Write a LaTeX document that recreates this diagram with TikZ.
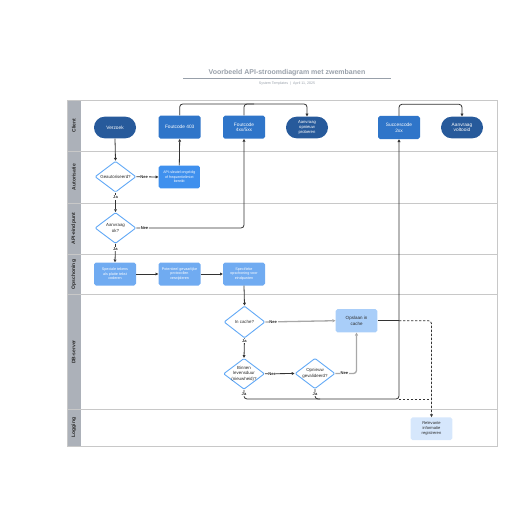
\documentclass[tikz,border=0pt]{standalone}
\usepackage{fontspec}
\setmainfont{Liberation Sans}
\usetikzlibrary{arrows.meta,shapes.geometric}
\definecolor{darkblue}{HTML}{275A9B}
\definecolor{midblue}{HTML}{2F75C9}
\definecolor{apiblue}{HTML}{3F90EE}
\definecolor{lightblue}{HTML}{70ABF1}
\definecolor{paleblue}{HTML}{A9CEF9}
\definecolor{verypale}{HTML}{D6E7FC}
\definecolor{diaborder}{HTML}{62A9F6}
\definecolor{lanegray}{HTML}{ACB1B9}
\definecolor{laneline}{HTML}{C8C8C8}
\definecolor{linec}{HTML}{333333}
\definecolor{titlegray}{HTML}{98A0AA}
\definecolor{graylink}{HTML}{A8A8A8}
\definecolor{txtdark}{HTML}{2A2A2A}
\tikzset{
  fs/.style 2 args={font=\fontsize{#1}{#2}\selectfont},
  boxbase/.style={rectangle, inner sep=0pt, minimum width=42pt, minimum height=23pt, align=center, text=white},
  stadium/.style={boxbase, fill=darkblue, rounded corners=10.8pt, fs={4.8}{5.6}},
  codebox/.style={boxbase, fill=midblue, rounded corners=1.8pt, fs={4.8}{5.6}},
  apibox/.style={boxbase, fill=apiblue, rounded corners=1.8pt, fs={3.6}{4.3}},
  cleanbox/.style={boxbase, fill=lightblue, rounded corners=1.8pt, fs={3.7}{4.5}},
  cachebox/.style={boxbase, fill=paleblue, rounded corners=1.8pt, fs={4.5}{5.4}, text=txtdark},
  logbox/.style={boxbase, fill=verypale, rounded corners=1.8pt, fs={4.1}{5.0}, text=txtdark},
  dia/.style={diamond, draw=diaborder, fill=white, line width=0.9pt, inner sep=0pt, minimum width=41pt, minimum height=31pt, rounded corners=1.2pt},
  dtext/.style={align=center, text=txtdark, fs={4.4}{5.3}, inner sep=0pt},
  conn/.style={draw=linec, line width=0.8pt},
  arr/.style={conn, -{Triangle[length=2.8pt,width=2.8pt]}},
  grayarr/.style={draw=graylink, line width=1.3pt, -{Triangle[length=3pt,width=3pt]}},
  dasharr/.style={draw=linec, line width=0.8pt, dash pattern=on 2.4pt off 1.6pt},
  lbl/.style={fill=white, inner sep=0.6pt, text=txtdark, font=\bfseries\fontsize{4.1}{4.5}\selectfont},
  lanelbl/.style={rotate=90, text=txtdark, font=\bfseries\fontsize{5}{5.5}\selectfont},
}
\begin{document}
\begin{tikzpicture}[x=1pt,y=-1pt]
\useasboundingbox (0,0) rectangle (516,516);
% title
\node[text=titlegray, font=\bfseries\fontsize{7}{8}\selectfont] (title) at (287,72.5) {Voorbeeld API-stroomdiagram met zwembanen};
\draw[titlegray, line width=0.8pt] (183,78) -- (391,78);
\node[text=titlegray, font=\fontsize{3.6}{4}\selectfont] (sub) at (287,83.5) {System Templates \ |\ \ April 11, 2025};
% lanes
\fill[lanegray] (67,100) rectangle (80.5,446);
\foreach \yy in {151,203,254.5,294.5,409.5} \draw[laneline, line width=0.8pt] (67,\yy) -- (497,\yy);
\draw[laneline, line width=0.8pt] (67,100) rectangle (497,446);
\node[lanelbl] (l1) at (73.8,125.5) {Client};
\node[lanelbl] (l2) at (73.8,177) {Autorisatie};
\node[lanelbl] (l3) at (73.8,228.7) {API-eindpunt};
\node[lanelbl] (l4) at (73.8,274.5) {Opschoning};
\node[lanelbl] (l5) at (73.8,352) {DB-server};
\node[lanelbl] (l6) at (73.8,427.7) {Logging};
% client lane
\node[stadium, minimum height=21.7pt] (verzoek) at (115,127.5) {Verzoek};
\node[codebox] (f403) at (179.7,127.2) {Foutcode 403};
\node[codebox] (f4xx) at (244,127.2) {Foutcode\\4xx/5xx};
\node[stadium, minimum height=21.7pt, fs={4.2}{5.0}] (retry) at (307,127.5) {Aanvraag\\opnieuw\\proberen};
\node[codebox] (succ) at (399,127.5) {Succescode\\2xx};
\node[stadium, minimum height=21.7pt] (done) at (462,127.5) {Aanvraag\\voltooid};
% autorisatie
\node[dia, label={[dtext]center:Geautoriseerd?}] (geaut) at (115.5,176.7) {};
\node[apibox, minimum width=41.3pt, minimum height=22.7pt] (apikey) at (179.3,177) {API-sleutel ongeldig\\of frequentielimiet\\bereikt};
% api-eindpunt
\node[dia, label={[dtext]center:Aanvraag\\ok?}] (aok) at (115.5,228) {};
% opschoning
\node[cleanbox] (spec) at (115,274) {Speciale tekens\\als platte tekst\\coderen};
\node[cleanbox] (pot) at (179.5,274) {Potentieel gevaarlijke\\protocollen\\verwijderen};
\node[cleanbox] (sps) at (244,274) {Specifieke\\opschoning voor\\eindpunten};
% db-server
\node[dia, minimum height=32pt, label={[dtext]center:In cache?}] (incache) at (244.5,322) {};
\node[cachebox, minimum width=41.6pt, minimum height=23.3pt] (opslaan) at (356.5,320.7) {Opslaan in\\cache};
\node[dia, label={[dtext]center:Binnen\\levensduur\\(nieuwheid)?}] (binnen) at (244,373.8) {};
\node[dia, minimum width=40pt, minimum height=30.5pt, label={[dtext]center:Opnieuw\\gevalideerd?}] (opn) at (315,373.5) {};
% logging
\node[logbox, minimum width=41.6pt, minimum height=22.7pt] (log) at (431.5,428.7) {Relevante\\informatie\\registreren};
% junction
\coordinate (jn) at (399,399);
% connectors client lane
\draw[arr, rounded corners=3pt] (f403.north) -- ++(0,-11.5) -| (retry.north);
\draw[conn, rounded corners=3pt] (f4xx.north) -- ++(0,-11.5) -- ++(10,0);
\draw[arr, rounded corners=3pt] (succ.north) -- ++(0,-11.5) -| (done.north);
% flow
\draw[arr] (verzoek.south) -- (geaut.north);
\draw[arr] (geaut.east) -- node[lbl, pos=0.35]{Nee} (apikey.west);
\draw[arr] (apikey.north) -- (f403.south);
\draw[arr] (geaut.south) -- node[lbl, pos=0.25]{Ja} (aok.north);
\draw[arr, rounded corners=3pt] (aok.east) -- node[lbl, pos=0.075]{Nee} (aok.east -| f4xx.south) -- (f4xx.south);
\draw[arr] (aok.south) -- node[lbl, pos=0.26]{Ja} (spec.north);
\draw[arr] (spec.east) -- (pot.west);
\draw[arr] (pot.east) -- (sps.west);
\draw[arr] (sps.south) -- (incache.north);
\draw[grayarr] (incache.east) -- node[lbl, pos=0.11]{Nee} (opslaan.west);
\draw[arr] (incache.south) -- node[lbl, pos=0.14]{Ja} (binnen.north);
\draw[arr] (binnen.east) -- node[lbl, pos=0.24]{Nee} (opn.west);
\draw[grayarr, rounded corners=3pt] (opn.east) -- node[lbl, pos=0.43]{Nee} (opn.east -| opslaan.south) -- (opslaan.south);
\draw[arr, rounded corners=3pt] (binnen.south) -- node[lbl, pos=0.5]{Ja} (binnen.south |- jn) -- (jn) -- (succ.south);
\draw[conn, rounded corners=3pt] (opn.south) -- node[lbl, pos=0.5]{Ja} (opn.south |- jn) -- ++(5,0);
\draw[conn] (opslaan.east) -- (opslaan.east -| jn);
\draw[dasharr, -{Triangle[length=2.8pt,width=2.8pt]}, rounded corners=3pt] (opslaan.east -| jn) -- (opslaan.east -| log.north) -- (log.north);
\draw[dasharr] (jn) -- (jn -| log.north);
\end{tikzpicture}
\end{document}
